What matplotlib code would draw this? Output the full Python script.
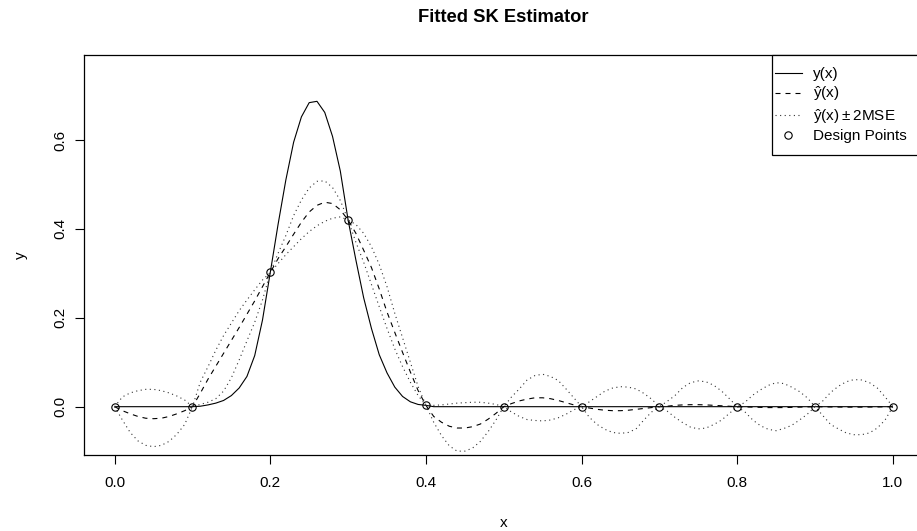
import numpy as np
import matplotlib
matplotlib.use("Agg")
import matplotlib.pyplot as plt
from matplotlib.lines import Line2D
from matplotlib.patches import Rectangle

plt.rcParams['font.family'] = ['Liberation Sans', 'DejaVu Sans']
plt.rcParams['mathtext.default'] = 'regular'
plt.rcParams['lines.scale_dashes'] = False

# ---- data ----
x_grid = np.linspace(0, 1, 101)

y_true = [0, 0, 0, 0, 0, 0, 0, 0, 0, 0, 0,
          0.001, 0.004, 0.008, 0.014, 0.025, 0.042, 0.068, 0.115, 0.195, 0.302,
          0.41, 0.51, 0.595, 0.652, 0.684, 0.687, 0.662, 0.608, 0.53, 0.42,
          0.33, 0.245, 0.176, 0.117, 0.076, 0.044, 0.023, 0.011, 0.005, 0.003] + [0] * 60

y_hat = [0, -0.009, -0.016, -0.022, -0.026, -0.027, -0.026, -0.022, -0.016, -0.009, 0,
         0.03, 0.062, 0.091, 0.12, 0.149, 0.178, 0.208, 0.238, 0.27, 0.302,
         0.333, 0.36, 0.388, 0.415, 0.438, 0.453, 0.46, 0.457, 0.443, 0.42,
         0.39, 0.352, 0.313, 0.265, 0.213, 0.167, 0.122, 0.078, 0.036, 0.003,
         -0.022, -0.035, -0.044, -0.048, -0.048, -0.045, -0.039, -0.028, -0.015, 0,
         0.007, 0.013, 0.017, 0.02, 0.02, 0.018, 0.014, 0.009, 0.004, 0,
         -0.003, -0.006, -0.008, -0.009, -0.009, -0.008, -0.006, -0.004, -0.002, 0,
         0.001, 0.003, 0.004, 0.0045, 0.0045, 0.004, 0.003, 0.002, 0.001, 0,
         -0.0005, -0.001, -0.0015, -0.002, -0.002, -0.002, -0.0015, -0.001, -0.0005, 0,
         -0.0003, -0.0006, -0.0008, -0.001, -0.001, -0.001, -0.0008, -0.0006, -0.0003, 0]

y_upper = [0, 0.022, 0.031, 0.036, 0.039, 0.039, 0.036, 0.031, 0.024, 0.015, 0,
           0.055, 0.09, 0.127, 0.16, 0.188, 0.216, 0.24, 0.263, 0.285, 0.302,
           0.345, 0.385, 0.43, 0.465, 0.492, 0.507, 0.508, 0.493, 0.464, 0.42,
           0.41, 0.39, 0.36, 0.32, 0.27, 0.21, 0.155, 0.1, 0.045, 0.003,
           0.003, 0.004, 0.006, 0.008, 0.009, 0.01, 0.01, 0.008, 0.005, 0,
           0.022, 0.04, 0.06, 0.07, 0.073, 0.068, 0.059, 0.04, 0.02, 0,
           0.011, 0.023, 0.035, 0.042, 0.045, 0.044, 0.04, 0.03, 0.017, 0,
           0.012, 0.025, 0.043, 0.054, 0.058, 0.056, 0.048, 0.035, 0.018, 0,
           0.01, 0.026, 0.038, 0.048, 0.054, 0.052, 0.044, 0.034, 0.02, 0,
           0.013, 0.032, 0.046, 0.056, 0.061, 0.06, 0.054, 0.042, 0.022, 0]

y_lower = [0, -0.03, -0.058, -0.077, -0.087, -0.09, -0.087, -0.078, -0.062, -0.04, 0,
           0.005, 0.01, 0.018, 0.035, 0.065, 0.105, 0.148, 0.19, 0.24, 0.302,
           0.322, 0.342, 0.36, 0.378, 0.394, 0.407, 0.417, 0.424, 0.427, 0.42,
           0.37, 0.325, 0.275, 0.225, 0.176, 0.13, 0.09, 0.055, 0.025, 0.003,
           -0.035, -0.065, -0.088, -0.1, -0.1, -0.093, -0.078, -0.056, -0.03, 0,
           -0.012, -0.022, -0.029, -0.031, -0.032, -0.03, -0.025, -0.017, -0.007, 0,
           -0.024, -0.04, -0.051, -0.058, -0.06, -0.058, -0.05, -0.03, -0.012, 0,
           -0.01, -0.024, -0.036, -0.046, -0.05, -0.048, -0.04, -0.03, -0.015, 0,
           -0.012, -0.03, -0.043, -0.051, -0.054, -0.049, -0.042, -0.03, -0.017, 0,
           -0.02, -0.04, -0.05, -0.059, -0.063, -0.063, -0.059, -0.048, -0.03, 0]

design_x = [0.0, 0.1, 0.2, 0.3, 0.4, 0.5, 0.6, 0.7, 0.8, 0.9, 1.0]
design_y = [0.0, 0.0, 0.302, 0.42, 0.003, 0.0, 0.0, 0.0, 0.0, 0.0, 0.0]

x_ticks = [0.0, 0.2, 0.4, 0.6, 0.8, 1.0]
x_tick_labels = ["0.0", "0.2", "0.4", "0.6", "0.8", "1.0"]
y_ticks = [0.0, 0.2, 0.4, 0.6]
y_tick_labels = ["0.0", "0.2", "0.4", "0.6"]

legend_labels = ["y(x)", r"$\hat{y}(x)$", r"$\hat{y}(x) \pm 2MSE$", "Design Points"]
title = "Fitted SK Estimator"

# ---- figure ----
W, H = 917, 531
fig = plt.figure(figsize=(W / 100, H / 100), dpi=100)
ax_l, ax_r, ax_t, ax_b = 83.5, 924.0, 55.0, 455.0
ax = fig.add_axes([ax_l / W, 1 - ax_b / H, (ax_r - ax_l) / W, (ax_b - ax_t) / H])

lw = 0.8
dash_style = (0, (3.6, 3.6))
dot_style = (0, (0.8, 2.5))
dot_color = '#333333'

ax.plot(x_grid, y_true, color='black', lw=lw, solid_capstyle='butt')
ax.plot(x_grid, y_hat, color='black', lw=lw, linestyle=dash_style)
ax.plot(x_grid, y_upper, color=dot_color, lw=lw, linestyle=dot_style)
ax.plot(x_grid, y_lower, color=dot_color, lw=lw, linestyle=dot_style)
ax.plot(design_x, design_y, linestyle='none', marker='o', ms=5.3,
        mfc='none', mec='black', mew=0.8)

ax.set_xlim(-0.04, 1.04)
ax.set_ylim(-0.1087, 0.7912)
ax.set_xticks(x_ticks)
ax.set_xticklabels(x_tick_labels)
ax.set_yticks(y_ticks)
ax.set_yticklabels(y_tick_labels, rotation=90, va='center')

fs = 11
ax.tick_params(axis='both', direction='out', length=6.5, width=0.8,
               labelsize=fs, color='black')
ax.tick_params(axis='x', pad=8.5)
ax.tick_params(axis='y', pad=5.4)
for s in ax.spines.values():
    s.set_linewidth(0.9)
    s.set_color('black')

fig.text((ax_l + ax_r) / 2 / W, 1 - 17.5 / H, title, ha='center', va='center',
         fontsize=13.2, fontweight='bold')
fig.text((ax_l + ax_r) / 2 / W, 1 - 523 / H, "x", ha='center', va='center', fontsize=fs)
fig.text(21 / W, 1 - ((ax_t + ax_b) / 2) / H, "y", ha='center', va='center',
         rotation=90, fontsize=fs)

# legend box (R style, top-right)
leg_left_frac = (772 - ax_l) / (ax_r - ax_l)
leg_bottom_frac = (ax_b - 155) / (ax_b - ax_t)
rect = Rectangle((leg_left_frac, leg_bottom_frac), 1 - leg_left_frac, 1 - leg_bottom_frac,
                 transform=ax.transAxes, facecolor='white', edgecolor='black',
                 lw=0.9, zorder=5, clip_on=False)
ax.add_patch(rect)

handles = [Line2D([], [], color='black', lw=lw),
           Line2D([], [], color='black', lw=lw, linestyle=dash_style),
           Line2D([], [], color=dot_color, lw=lw, linestyle=dot_style),
           Line2D([], [], linestyle='none', marker='o', ms=5.3, mfc='none',
                  mec='black', mew=0.8)]
leg = ax.legend(handles, legend_labels, loc='upper left',
                bbox_to_anchor=(775 / W, 1 - 67 / H), bbox_transform=fig.transFigure,
                frameon=False, fontsize=fs, borderpad=0, borderaxespad=0,
                handlelength=1.75, handletextpad=0.75, labelspacing=0.22)
leg.set_zorder(6)

fig.savefig("out.png", dpi=100)
